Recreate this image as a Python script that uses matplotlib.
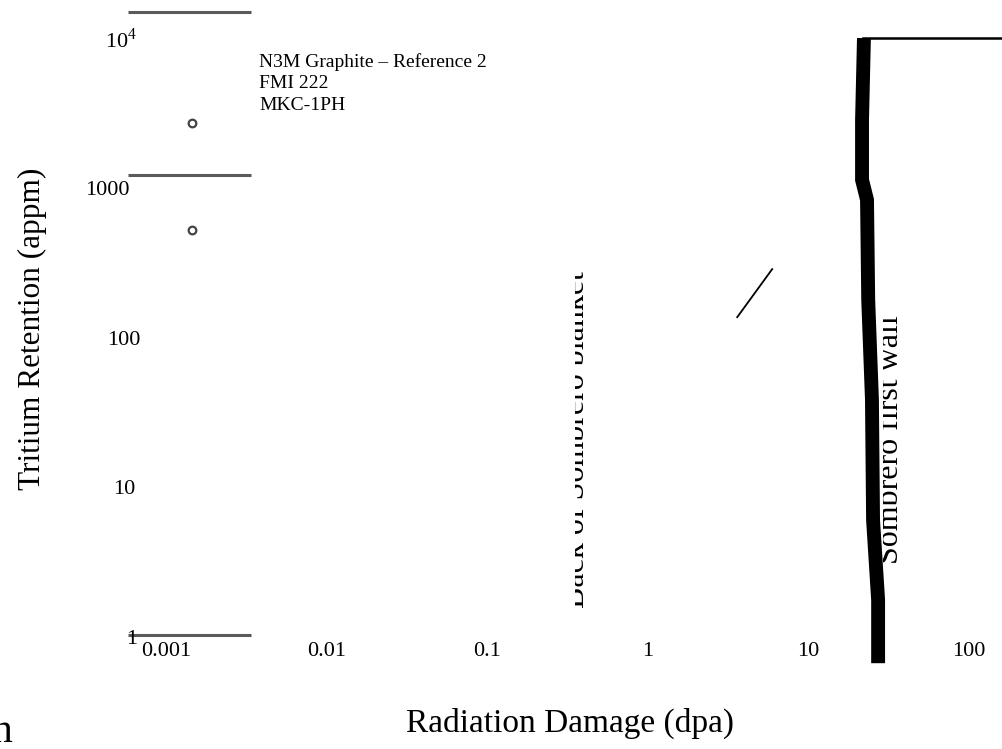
import matplotlib
matplotlib.use("Agg")
import matplotlib.pyplot as plt
from matplotlib.transforms import Bbox, TransformedBbox

plt.rcParams["font.family"] = "serif"
plt.rcParams["font.serif"] = ["Liberation Serif", "DejaVu Serif"]
plt.rcParams["mathtext.fontset"] = "custom"
plt.rcParams["mathtext.rm"] = "Liberation Serif"

W, H = 1003, 749

# dados
x_ticks = [0.001, 0.01, 0.1, 1, 10, 100]
x_tick_labels = ["0.001", "0.01", "0.1", "1", "10", "100"]
y_ticks = [1e4, 1000, 100, 10, 1]
y_tick_labels = ["10$^{4}$", "1000", "100", "10", "1"]

# segmentos cinza horizontais (y) entre x0 e x1
gray_x = [5.8e-4, 3.4e-3]
gray_y = [15400, 1260, 1.08]

# pontos (circulos abertos)
circ_x = [0.00146, 0.00146]
circ_y = [2800, 540]

# linha grossa preta (parede)
wall_x = [22.2, 21.6, 21.6, 23.2, 23.6, 24.9, 25.3, 27.2, 27.2]
wall_y = [10300, 2930, 1170, 860, 185, 40, 6.3, 1.85, 0.70]

# linha fina no topo
top_x = [22.0, 300]
top_y = [10300, 10300]

# pequena diagonal
diag_x = [3.61, 5.96]
diag_y = [142, 297]

legend_labels = ["N3M Graphite \u2013 Reference 2", "FMI 222", "MKC-1PH"]


def fx(px):
    return px / W


def fy(py):
    return 1 - py / H


fig = plt.figure(figsize=(W / 100, H / 100), dpi=100)
ax = fig.add_axes([0, 0, 1, 1])
ax.set_xscale("log")
ax.set_yscale("log")
ax.set_xlim(10 ** -4.032, 10 ** 2.212)
ax.set_ylim(10 ** -0.727, 10 ** 4.267)
ax.axis("off")

for y in gray_y:
    ax.plot(gray_x, [y, y], color="#5a5a5a", lw=2.2, solid_capstyle="butt")

ax.plot(circ_x, circ_y, "o", ms=5.5, mfc="white", mec="#444444", mew=1.6, ls="none")

ax.plot(wall_x, wall_y, color="black", lw=10, solid_capstyle="butt",
        solid_joinstyle="miter")
ax.plot(top_x, top_y, color="black", lw=1.8)
ax.plot(diag_x, diag_y, color="black", lw=1.3)

##rotulos dos eixos (texto)
for v, lab in zip(x_ticks, x_tick_labels):
    ax.text(v, fy(651), lab, transform=ax.get_xaxis_transform(),
            ha="center", va="center", fontsize=16)

y_lab_right = [137, 130, 140, 135, 137]
for v, lab, xr in zip(y_ticks, y_tick_labels, y_lab_right):
    ax.text(fx(xr), v, lab, transform=ax.get_yaxis_transform(),
            ha="right", va="center", fontsize=16)

for i, lab in enumerate(legend_labels):
    ax.text(fx(259), fy(62 + 22 * i), lab, transform=ax.transAxes,
            ha="left", va="center", fontsize=14)

ax.text(fx(32), fy(329), "Tritium Retention (appm)", transform=ax.transAxes,
        rotation=90, ha="center", va="center", fontsize=22.5)
ax.text(fx(570), fy(732), "Radiation Damage (dpa)", transform=ax.transAxes,
        ha="center", va="baseline", fontsize=24)
ax.text(fx(13), fy(742), "n", transform=ax.transAxes,
        ha="right", va="baseline", fontsize=30)

# textos verticais cortados
t1 = ax.text(fx(584), fy(440), "Back of Sombrero blanket", transform=ax.transAxes,
             rotation=90, rotation_mode="anchor", ha="center", va="baseline",
             fontsize=23)
t1.set_clip_box(TransformedBbox(Bbox.from_extents(fx(575), 0, 1, 1), fig.transFigure))
t1.set_clip_on(True)

t2 = ax.text(fx(898), fy(440), "Sombrero first wall", transform=ax.transAxes,
             rotation=90, rotation_mode="anchor", ha="center", va="baseline",
             fontsize=23)
t2.set_clip_box(TransformedBbox(Bbox.from_extents(fx(883), 0, 1, 1), fig.transFigure))
t2.set_clip_on(True)

plt.savefig("out.png", dpi=100)
